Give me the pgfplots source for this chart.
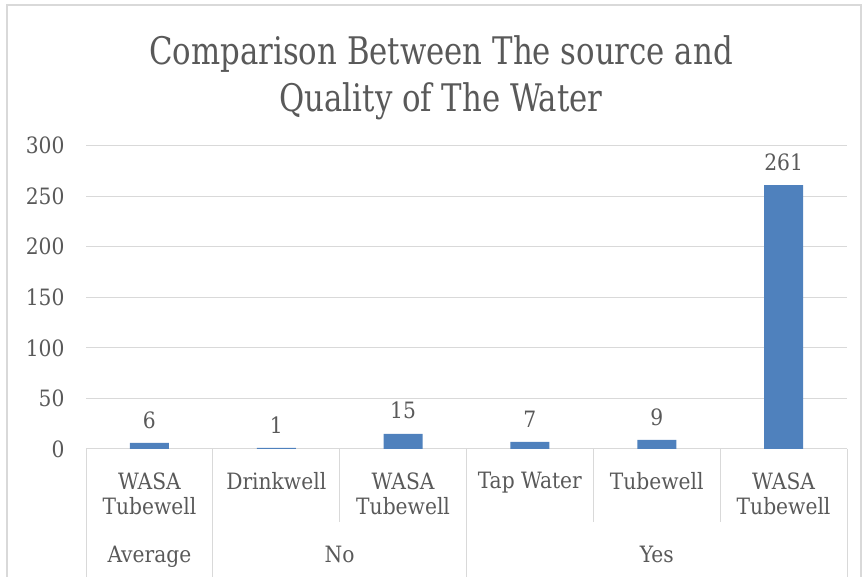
\documentclass[border=0pt]{standalone}
\usepackage{fontspec}
\setmainfont{DejaVu Serif Condensed}
\newfontfamily\titlefont[FakeStretch=0.9]{DejaVu Serif Condensed}
\usepackage{pgfplots}
\pgfplotsset{compat=1.18}
\definecolor{barblue}{HTML}{4F81BD}
\definecolor{txt}{HTML}{595959}
\definecolor{gridc}{HTML}{D9D9D9}
\begin{document}
\begin{tikzpicture}[x=1pt,y=1pt]
\useasboundingbox (0,0) rectangle (866,577);
\draw[gridc, line width=1.2pt] (7,-5) -- (7,572) -- (861,572) -- (861,-5);
\node[text=txt, font=\titlefont\fontsize{38}{47}\selectfont, align=center] at (441,499) {Comparison Between The source and\\Quality of The Water};
\begin{axis}[
  at={(86pt,128pt)}, anchor=south west,
  width=761pt, height=303.3pt, scale only axis,
  xmin=-0.5, xmax=5.5, ymin=0, ymax=300,
  xtick={0,...,5},
  xticklabels={{WASA\\Tubewell},{Drinkwell},{WASA\\Tubewell},{Tap Water},{Tubewell},{WASA\\Tubewell}},
  xticklabel style={align=center, font=\fontsize{22.5}{25.5}\selectfont, text=txt, anchor=north, yshift=-20pt},
  extra x ticks={0,1.5,4},
  extra x tick labels={Average,No,Yes},
  extra x tick style={grid=none, tick label style={yshift=-74pt}},
  ytick={0,50,...,300},
  yticklabel style={font=\fontsize{22.5}{25}\selectfont, text=txt, xshift=-18pt},
  /pgf/number format/assume math mode=true,
  ymajorgrids, grid style={gridc, line width=1pt},
  axis line style={draw=none}, major tick length=0pt,
  ybar, bar width=39pt,
  nodes near coords,
  nodes near coords style={font=\fontsize{22.5}{25}\selectfont, text=txt, yshift=11pt},
  clip=false,
]
\addplot[fill=barblue, draw=none] coordinates {(0,6) (1,1) (2,15) (3,7) (4,9) (5,261)};
\draw[gridc, line width=1pt] (axis cs:-0.5,0) -- ++(0pt,-135pt);
\draw[gridc, line width=1pt] (axis cs:0.5,0) -- ++(0pt,-135pt);
\draw[gridc, line width=1pt] (axis cs:2.5,0) -- ++(0pt,-135pt);
\draw[gridc, line width=1pt] (axis cs:5.5,0) -- ++(0pt,-135pt);
\draw[gridc, line width=1pt] (axis cs:1.5,0) -- ++(0pt,-73pt);
\draw[gridc, line width=1pt] (axis cs:3.5,0) -- ++(0pt,-73pt);
\draw[gridc, line width=1pt] (axis cs:4.5,0) -- ++(0pt,-73pt);
\end{axis}
\end{tikzpicture}
\end{document}
